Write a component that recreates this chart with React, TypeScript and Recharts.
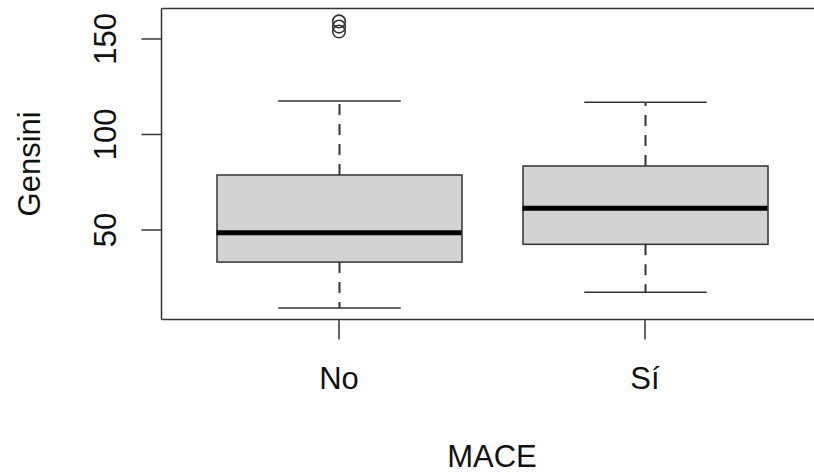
import { Bar, ComposedChart, Line, ReferenceLine, XAxis, YAxis } from 'recharts';

const categories = ['No', 'Sí'];
const whiskerLow = [9.2, 17.4];
const lowerQuartile = [33.2, 42.5];
const medians = [48.6, 61.4];
const upperQuartile = [78.8, 83.5];
const whiskerHigh = [117.5, 116.9];
const outliers: number[][] = [[159.2, 156.5, 153.9], []];
const yTicks = [50, 100, 150];
const yDomain = [3.2, 166];

const rows = categories.map((name, i) => ({
  name,
  lower: [whiskerLow[i], lowerQuartile[i]],
  box: [lowerQuartile[i], upperQuartile[i]],
  upper: [upperQuartile[i], whiskerHigh[i]],
  median: medians[i],
  out0: outliers[i][0],
  out1: outliers[i][1],
  out2: outliers[i][2],
}));

const INK = '#333';
const FONT = "'Liberation Sans', Arial, sans-serif";
const BOX_W = 245;

const BoxShape = ({ x, y, width, height }: any) => (
  <rect x={x} y={y} width={width} height={height} fill="#d3d3d3" stroke={INK} strokeWidth={1.5} />
);

const UpperWhisker = ({ x, y, width, height }: any) => {
  const cx = x + width / 2;
  return (
    <g>
      <line x1={cx} x2={cx} y1={y + height} y2={y} stroke={INK} strokeWidth={2} strokeDasharray="11 9" />
      <line x1={cx - width / 4} x2={cx + width / 4} y1={y} y2={y} stroke={INK} strokeWidth={1.5} />
    </g>
  );
};

const LowerWhisker = ({ x, y, width, height }: any) => {
  const cx = x + width / 2;
  const bottom = y + height;
  return (
    <g>
      <line x1={cx} x2={cx} y1={y} y2={bottom} stroke={INK} strokeWidth={2} strokeDasharray="11 9" />
      <line x1={cx - width / 4} x2={cx + width / 4} y1={bottom} y2={bottom} stroke={INK} strokeWidth={1.5} />
    </g>
  );
};

const MedianMark = (props: any) => {
  const { cx, cy, value } = props;
  if (cy == null || value == null) return <g key={props.key} />;
  return (
    <line key={props.key} x1={cx - BOX_W / 2} x2={cx + BOX_W / 2} y1={cy} y2={cy} stroke="#000" strokeWidth={5} />
  );
};

const OutlierMark = (props: any) => {
  const { cx, cy, value } = props;
  if (cy == null || value == null) return <g key={props.key} />;
  return <circle key={props.key} cx={cx} cy={cy} r={6.3} fill="none" stroke={INK} strokeWidth={1.6} />;
};

const YTick = ({ x, y, payload }: any) => (
  <text
    x={x}
    y={y}
    transform={`rotate(-90 ${x} ${y})`}
    textAnchor="middle"
    fontSize={31}
    fill="#111"
    fontFamily={FONT}
  >
    {payload.value}
  </text>
);

export default function App() {
  return (
    <div style={{ position: 'absolute', left: 0, top: 0, width: 814, height: 472, overflow: 'hidden', background: '#fff' }}>
      <ComposedChart
        width={900}
        height={472}
        data={rows}
        barGap={-BOX_W}
        margin={{ top: 8.4, right: 77.5, bottom: 52.6, left: 41.5 }}
      >
        <XAxis
          dataKey="name"
          type="category"
          padding={{ left: 24.5, right: 24.5 }}
          height={100}
          stroke={INK}
          strokeWidth={1.5}
          tickSize={20}
          tickMargin={28}
          tick={{ fontSize: 31, fill: '#111', fontFamily: FONT }}
          label={{
            content: ({ viewBox }: any) => (
              <text x={viewBox.x + viewBox.width / 2} y={467} textAnchor="middle" fontSize={31} fill="#111" fontFamily={FONT}>
                MACE
              </text>
            ),
          }}
        />
        <YAxis
          type="number"
          domain={yDomain}
          ticks={yTicks}
          width={120}
          stroke={INK}
          strokeWidth={1.5}
          tickSize={20}
          tickMargin={25}
          tick={<YTick />}
          label={{
            content: ({ viewBox }: any) => {
              const cy = viewBox.y + viewBox.height / 2;
              return (
                <text x={40} y={cy} transform={`rotate(-90 40 ${cy})`} textAnchor="middle" fontSize={31} fill="#111" fontFamily={FONT}>
                  Gensini
                </text>
              );
            },
          }}
        />
        <ReferenceLine y={yDomain[1]} stroke={INK} strokeWidth={1.5} />
        <Bar dataKey="lower" barSize={BOX_W} shape={LowerWhisker} isAnimationActive={false} />
        <Bar dataKey="upper" barSize={BOX_W} shape={UpperWhisker} isAnimationActive={false} />
        <Bar dataKey="box" barSize={BOX_W} shape={BoxShape} isAnimationActive={false} />
        <Line dataKey="median" stroke="none" dot={MedianMark} activeDot={false} isAnimationActive={false} />
        <Line dataKey="out0" stroke="none" dot={OutlierMark} activeDot={false} isAnimationActive={false} />
        <Line dataKey="out1" stroke="none" dot={OutlierMark} activeDot={false} isAnimationActive={false} />
        <Line dataKey="out2" stroke="none" dot={OutlierMark} activeDot={false} isAnimationActive={false} />
      </ComposedChart>
    </div>
  );
}
